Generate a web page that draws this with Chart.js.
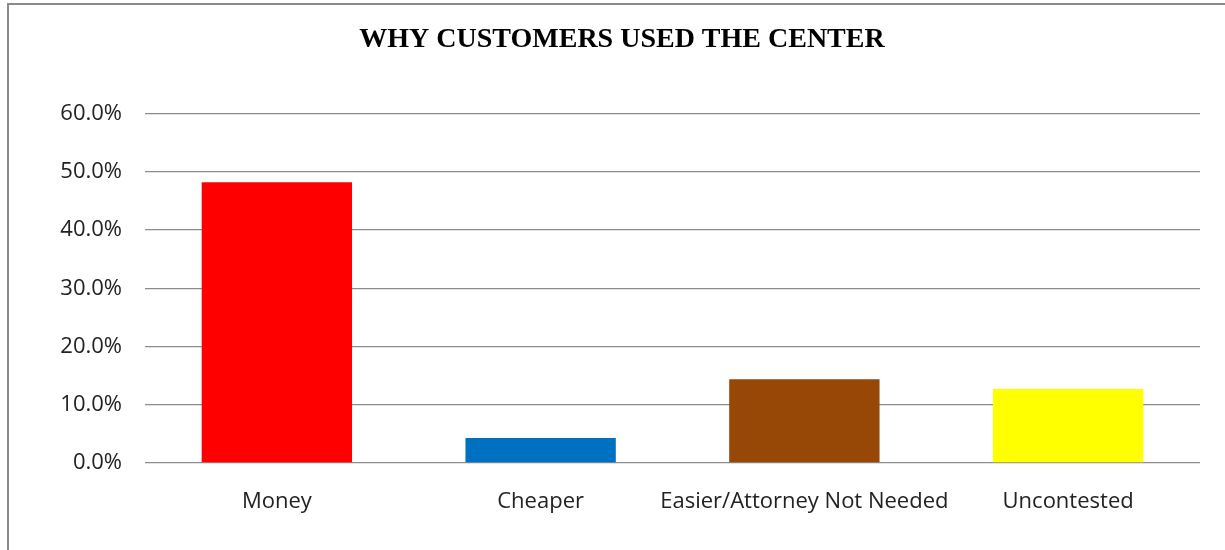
<!DOCTYPE html>
<html>
<head>
<meta charset="utf-8">
<script src="https://cdn.jsdelivr.net/npm/chart.js@4.4.1/dist/chart.umd.min.js"></script>
<style>
  html, body { margin: 0; padding: 0; background: #fff; }
  #wrap { position: relative; width: 1225px; height: 550px; overflow: hidden; }
  #frame {
    position: absolute; left: 7px; top: 3px; right: -10px; bottom: -10px;
    border-left: 2px solid #8a8a8a; border-top: 2px solid #8a8a8a;
  }
  canvas { position: absolute; left: 0; top: 0; }
</style>
</head>
<body>
<div id="wrap">
  <div id="frame"></div>
  <canvas id="grafica" width="1225" height="550"></canvas>
</div>
<script>
const categorias = ["Money", "Cheaper", "Easier/Attorney Not Needed", "Uncontested"];
const porcentajes = [0.482, 0.043, 0.144, 0.127];
const colores = ["#ff0000", "#0070c0", "#974706", "#ffff00"];
const marcas = [0, 0.1, 0.2, 0.3, 0.4, 0.5, 0.6];

const gris = "#8c8c8c";
const letra = "'Open Sans', 'Noto Sans', sans-serif";

let grafica = document.getElementById("grafica");

const data = {
    labels: categorias,
    datasets: [{
        data: porcentajes,
        backgroundColor: colores,
        borderWidth: 0,
        barPercentage: 0.57,
        categoryPercentage: 1
    }]
};

const config = {
    type: 'bar',
    data: data,
    options: {
        responsive: false,
        animation: false,
        // padding izquierdo desplaza el titulo hacia la derecha
        layout: { padding: { left: 44, right: 25, top: 0, bottom: 0 } },
        plugins: {
            legend: { display: false },
            tooltip: { enabled: false },
            title: {
                display: true,
                text: "WHY CUSTOMERS USED THE CENTER",
                color: "#000",
                font: { family: "'Liberation Serif', 'DejaVu Serif', serif", size: 28, weight: 'bold' },
                padding: { top: 23, bottom: 57 }
            }
        },
        scales: {
            x: {
                grid: { display: false },
                border: { display: false },
                ticks: {
                    color: "#222",
                    font: { family: letra, size: 22 },
                    padding: 18,
                    maxRotation: 0,
                    autoSkip: false
                },
                afterFit: function (scale) { scale.height = 87; }
            },
            y: {
                min: 0,
                max: 0.6,
                afterBuildTicks: function (scale) {
                    scale.ticks = marcas.map(v => ({ value: v }));
                },
                grid: { color: gris, lineWidth: 1.3, drawTicks: false },
                border: { display: false },
                ticks: {
                    color: "#222",
                    font: { family: letra, size: 22 },
                    padding: 23,
                    callback: function (v) { return (v * 100).toFixed(1) + "%"; }
                },
                afterFit: function (scale) { scale.width = 101; }
            }
        }
    }
};

let myChart = new Chart(grafica, config);
</script>
</body>
</html>
